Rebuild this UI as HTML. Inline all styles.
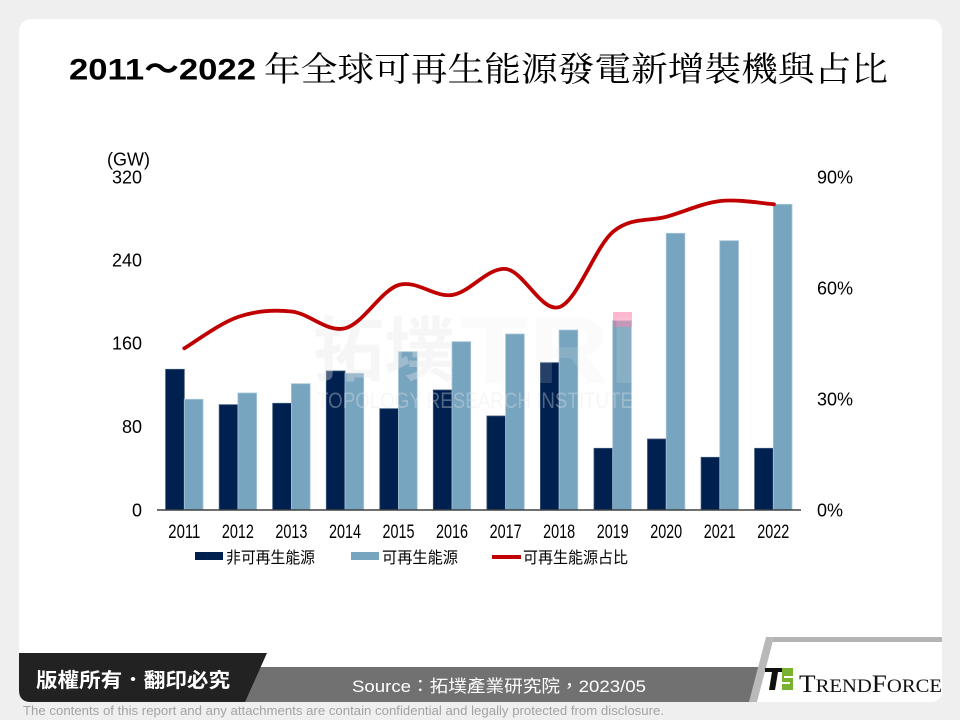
<!DOCTYPE html>
<html>
<head>
<meta charset="utf-8">
<style>
html,body{margin:0;padding:0;background:#efefef;}
svg{display:block;}
</style>
</head>
<body>
<svg width="960" height="720" viewBox="0 0 960 720" xmlns="http://www.w3.org/2000/svg">
  <rect x="0" y="0" width="960" height="720" fill="#efefef"/>
  <!-- card -->
  <rect x="19" y="19" width="923" height="683" rx="12" ry="12" fill="#ffffff"/>

  <!-- title -->
  <text x="69" y="79.5" font-family="Liberation Sans, Noto Sans CJK TC, sans-serif" font-weight="bold" font-size="30" textLength="187" lengthAdjust="spacingAndGlyphs" fill="#000">2011～2022</text>
  <text x="264" y="81" font-family="Noto Serif CJK SC, Noto Sans CJK TC, serif" font-weight="400" font-size="34" textLength="624" lengthAdjust="spacingAndGlyphs" fill="#000">年全球可再生能源發電新增裝機與占比</text>

  <!-- axis labels -->
  <g font-family="Liberation Sans, sans-serif" font-size="18" fill="#000">
    <text x="107" y="165.7">(GW)</text>
    <text x="142" y="183.7" text-anchor="end">320</text>
    <text x="142" y="266.4" text-anchor="end">240</text>
    <text x="142" y="349.7" text-anchor="end">160</text>
    <text x="142" y="433" text-anchor="end">80</text>
    <text x="142" y="516.4" text-anchor="end">0</text>
    <text x="817" y="183.7">90%</text>
    <text x="817" y="294.7">60%</text>
    <text x="817" y="405.7">30%</text>
    <text x="817" y="516.4">0%</text>
  </g>

  <!-- bars -->
  <g stroke-width="0.8">
    <g fill="#00204f" stroke="#3a5578">
    <rect x="165.6" y="369.3" width="18.7" height="140.7"/>
    <rect x="219.2" y="404.7" width="18.7" height="105.3"/>
    <rect x="272.7" y="403.3" width="18.7" height="106.7"/>
    <rect x="326.3" y="371" width="18.7" height="139"/>
    <rect x="379.8" y="408.7" width="18.7" height="101.3"/>
    <rect x="433.3" y="390" width="18.7" height="120"/>
    <rect x="486.9" y="416" width="18.7" height="94"/>
    <rect x="540.4" y="362.7" width="18.7" height="147.3"/>
    <rect x="594.0" y="448.3" width="18.7" height="61.7"/>
    <rect x="647.5" y="439" width="18.7" height="71"/>
    <rect x="701.1" y="457.3" width="18.7" height="52.7"/>
    <rect x="754.6" y="448.3" width="18.7" height="61.7"/>
    </g>
    <g fill="#77a4bf" stroke="#a9c6d8">
    <rect x="184.3" y="399.3" width="18.7" height="110.7"/>
    <rect x="237.9" y="393" width="18.7" height="117"/>
    <rect x="291.4" y="383.7" width="18.7" height="126.3"/>
    <rect x="345.0" y="373.3" width="18.7" height="136.7"/>
    <rect x="398.5" y="351.7" width="18.7" height="158.3"/>
    <rect x="452.0" y="341.7" width="18.7" height="168.3"/>
    <rect x="505.6" y="334" width="18.7" height="176"/>
    <rect x="559.1" y="330" width="18.7" height="180"/>
    <rect x="612.7" y="320.7" width="18.7" height="189.3"/>
    <rect x="666.2" y="233.3" width="18.7" height="276.7"/>
    <rect x="719.8" y="240.7" width="18.7" height="269.3"/>
    <rect x="773.3" y="204.3" width="18.7" height="305.7"/>
    </g>
  </g>

  <!-- pink marker -->
  <rect x="613" y="312" width="19" height="15" fill="#ff6f9f" opacity="0.5"/>

  <!-- watermark -->
  <g fill="#e8e8e8">
    <text x="313" y="375" opacity="0.35" font-family="Noto Sans CJK TC, sans-serif" font-weight="bold" font-size="70" textLength="142" lengthAdjust="spacingAndGlyphs">拓墣</text>
    <text x="460" y="383" opacity="0.16" font-family="Liberation Sans, sans-serif" font-weight="bold" font-size="96" textLength="180" lengthAdjust="spacingAndGlyphs">TRI</text>
    <text x="317" y="408" opacity="0.35" font-family="Liberation Sans, sans-serif" font-size="22" textLength="316" lengthAdjust="spacingAndGlyphs">TOPOLOGY RESEARCH INSTITUTE</text>
  </g>

  <!-- x axis -->
  <line x1="157" y1="510" x2="801" y2="510" stroke="#404040" stroke-width="1.5"/>

  <!-- line series -->
  <path d="M184.3,348.3 C193.2,343.1 220.0,323.1 237.9,317 C255.8,310.9 273.6,309.6 291.5,311.5 C309.4,313.4 327.2,332.7 345.1,328.3 C363.0,323.9 380.8,290.6 398.7,285 C416.6,279.5 434.4,297.7 452.3,295 C470.2,292.3 488.0,267 505.9,269 C523.8,271 541.6,313.2 559.5,307 C577.4,300.8 595.2,246.8 613.1,231.7 C631.0,216.7 648.8,221.8 666.7,216.7 C684.6,211.6 702.4,203.1 720.3,201 C738.2,198.9 765.0,203.8 773.9,204.3" fill="none" stroke="#c00000" stroke-width="3.8" stroke-linecap="round" stroke-linejoin="round"/>

  <!-- x labels -->
  <g font-family="Liberation Sans, sans-serif" font-size="19" fill="#000" text-anchor="middle">
    <text x="184.3" y="538.1" textLength="32" lengthAdjust="spacingAndGlyphs">2011</text>
    <text x="237.9" y="538.1" textLength="32" lengthAdjust="spacingAndGlyphs">2012</text>
    <text x="291.4" y="538.1" textLength="32" lengthAdjust="spacingAndGlyphs">2013</text>
    <text x="345.0" y="538.1" textLength="32" lengthAdjust="spacingAndGlyphs">2014</text>
    <text x="398.5" y="538.1" textLength="32" lengthAdjust="spacingAndGlyphs">2015</text>
    <text x="452.0" y="538.1" textLength="32" lengthAdjust="spacingAndGlyphs">2016</text>
    <text x="505.6" y="538.1" textLength="32" lengthAdjust="spacingAndGlyphs">2017</text>
    <text x="559.1" y="538.1" textLength="32" lengthAdjust="spacingAndGlyphs">2018</text>
    <text x="612.7" y="538.1" textLength="32" lengthAdjust="spacingAndGlyphs">2019</text>
    <text x="666.2" y="538.1" textLength="32" lengthAdjust="spacingAndGlyphs">2020</text>
    <text x="719.8" y="538.1" textLength="32" lengthAdjust="spacingAndGlyphs">2021</text>
    <text x="773.3" y="538.1" textLength="32" lengthAdjust="spacingAndGlyphs">2022</text>
  </g>

  <!-- legend -->
  <rect x="195" y="552" width="28" height="8" fill="#00204f"/>
  <text x="226" y="563" font-family="Liberation Sans, Noto Sans CJK TC, sans-serif" font-size="16" textLength="89" lengthAdjust="spacingAndGlyphs" fill="#000">非可再生能源</text>
  <rect x="351" y="552" width="28" height="8" fill="#77a4bf"/>
  <text x="382" y="563" font-family="Liberation Sans, Noto Sans CJK TC, sans-serif" font-size="16" textLength="76" lengthAdjust="spacingAndGlyphs" fill="#000">可再生能源</text>
  <line x1="492" y1="557" x2="521" y2="557" stroke="#c00000" stroke-width="4"/>
  <text x="523" y="563" font-family="Liberation Sans, Noto Sans CJK TC, sans-serif" font-size="16" textLength="105" lengthAdjust="spacingAndGlyphs" fill="#000">可再生能源占比</text>

  <!-- footer -->
  <polygon points="770,637 942,637 942,642 768.5,642" fill="#b3b3b3"/>
  <polygon points="250,667 763,667 754,702 245,702" fill="#717171"/>
  <polygon points="766,637 774,637 757,702 749,702" fill="#b9b9b9"/>
  <path d="M774,642 L942,642 L942,690 Q942,702 930,702 L757,702 Z" fill="#ffffff"/>
  <path d="M19,653 L267,653 L245,702 L31,702 Q19,702 19,690 Z" fill="#222222"/>
  <text x="36" y="687" font-family="Liberation Sans, Noto Sans CJK TC, sans-serif" font-weight="bold" font-size="20" textLength="194" lengthAdjust="spacingAndGlyphs" fill="#ffffff">版權所有．翻印必究</text>
  <text x="352" y="692" font-family="Liberation Sans, Noto Sans CJK TC, sans-serif" font-size="17" textLength="294" lengthAdjust="spacingAndGlyphs" fill="#ffffff">Source：拓墣產業研究院，2023/05</text>

  <!-- logo -->
  <g>
    <rect x="765" y="668" width="17" height="4" fill="#111"/>
    <polygon points="772,672 778,672 775,690 769,690" fill="#111"/>
    <rect x="782" y="668" width="11" height="22" fill="#78b22e"/>
    <rect x="784" y="676" width="9" height="2" fill="#fff"/>
    <rect x="782" y="682" width="8" height="2" fill="#fff"/>
  </g>
  <text x="799" y="692" font-family="Liberation Serif, serif" fill="#111" textLength="143" lengthAdjust="spacingAndGlyphs"><tspan font-size="25">T</tspan><tspan font-size="19">REND</tspan><tspan font-size="25">F</tspan><tspan font-size="19">ORCE</tspan></text>

  <!-- disclaimer -->
  <text x="23" y="715" font-family="Liberation Sans, sans-serif" font-size="13" textLength="641" lengthAdjust="spacingAndGlyphs" fill="#a3a3a3">The contents of this report and any attachments are contain confidential and legally protected from disclosure.</text>
</svg>
</body>
</html>
